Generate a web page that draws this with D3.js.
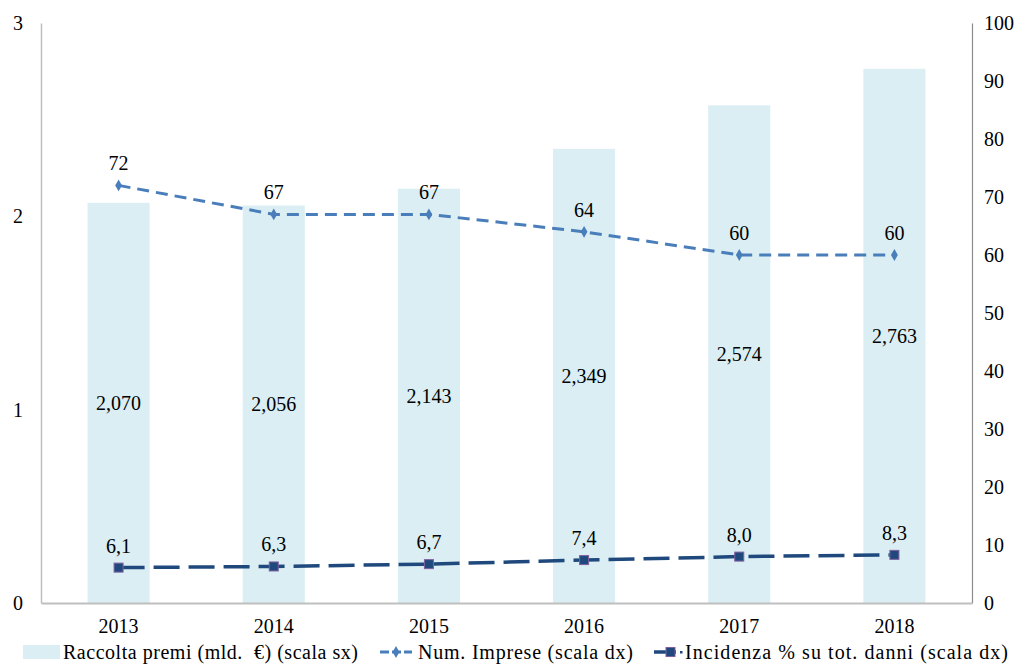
<!DOCTYPE html>
<html lang="it">
<head>
  <meta charset="UTF-8" />
  <title>Raccolta premi</title>
  <script src="https://cdn.jsdelivr.net/npm/d3@7"></script>
  <style>
    body { margin: 0; background: #fff; }
    text { font-family: "Liberation Serif", "DejaVu Serif", serif; fill: #000; white-space: pre; }
  </style>
</head>
<body>
<script>
  var years = ["2013", "2014", "2015", "2016", "2017", "2018"];
  var premi = [2.070, 2.056, 2.143, 2.349, 2.574, 2.763];
  var imprese = [72, 67, 67, 64, 60, 60];
  var incidenza = [6.1, 6.3, 6.7, 7.4, 8.0, 8.3];
  var leftTicks = [0, 1, 2, 3];
  var rightTicks = [0, 10, 20, 30, 40, 50, 60, 70, 80, 90, 100];

  var w = 1025, h = 664;
  var pLeft = 41, pRight = 972, pTop = 23, pBottom = 603;
  var fs = 20;

  var svg = d3.select("body").append("svg")
    .attr("width", w)
    .attr("height", h);

  var x = d3.scaleBand().domain(years).range([pLeft, pRight]).paddingInner(0.6).paddingOuter(0.3);
  var yL = d3.scaleLinear().domain([0, 3]).range([pBottom, pTop]);
  var yR = d3.scaleLinear().domain([0, 100]).range([pBottom, pTop]);

  var fmt = function(v, d) { return v.toFixed(d).replace(".", ","); };
  var cx = function(i) { return x(years[i]) + x.bandwidth() / 2; };

  // bars
  svg.selectAll("rect.bar")
    .data(premi)
    .enter()
    .append("rect")
    .attr("class", "bar")
    .attr("fill", "#daeef3")
    .attr("x", function(d, i) { return x(years[i]); })
    .attr("width", x.bandwidth())
    .attr("y", function(d) { return yL(d); })
    .attr("height", function(d) { return pBottom - yL(d); });

  svg.selectAll("text.barlbl")
    .data(premi)
    .enter()
    .append("text")
    .attr("class", "barlbl")
    .attr("x", function(d, i) { return cx(i); })
    .attr("y", function(d) { return (yL(d) + pBottom) / 2 + 7; })
    .attr("text-anchor", "middle")
    .attr("font-size", fs)
    .text(function(d) { return fmt(d, 3); });

  // axes
  var yAxisL = d3.axisLeft(yL).tickValues(leftTicks).tickFormat(d3.format("d")).tickSize(0).tickPadding(18);
  var gL = svg.append("g").attr("transform", "translate(" + pLeft + ",0)").call(yAxisL);
  gL.select(".domain").attr("stroke", "#bfbfbf").attr("stroke-width", 1.5);

  var yAxisR = d3.axisRight(yR).tickValues(rightTicks).tickSize(0).tickPadding(12);
  var gR = svg.append("g").attr("transform", "translate(" + pRight + ",0)").call(yAxisR);
  gR.select(".domain").attr("stroke", "#8c8c8c").attr("stroke-width", 1.2);

  var xAxis = d3.axisBottom(x).tickSize(0).tickPadding(16);
  var gX = svg.append("g").attr("transform", "translate(0," + pBottom + ")").call(xAxis);
  gX.select(".domain").attr("stroke", "#bfbfbf").attr("stroke-width", 2);

  svg.selectAll(".tick text")
    .attr("font-family", "Liberation Serif, DejaVu Serif, serif")
    .attr("font-size", fs)
    .attr("fill", "#000");

  // lines
  var lineR = d3.line()
    .x(function(d, i) { return cx(i); })
    .y(function(d) { return yR(d); });

  svg.append("path")
    .datum(imprese)
    .attr("fill", "none")
    .attr("stroke", "#4a7ebb")
    .attr("stroke-width", 3)
    .attr("stroke-dasharray", "12,7")
    .attr("d", lineR);

  svg.selectAll("path.dia")
    .data(imprese)
    .enter()
    .append("path")
    .attr("class", "dia")
    .attr("fill", "#4a7ebb")
    .attr("transform", function(d, i) { return "translate(" + cx(i) + "," + yR(d) + ")"; })
    .attr("d", d3.symbol().type(d3.symbolDiamond).size(40));

  svg.selectAll("text.implbl")
    .data(imprese)
    .enter()
    .append("text")
    .attr("class", "implbl")
    .attr("x", function(d, i) { return cx(i); })
    .attr("y", function(d) { return yR(d) - 15; })
    .attr("text-anchor", "middle")
    .attr("font-size", fs)
    .text(function(d) { return d; });

  svg.append("path")
    .datum(incidenza)
    .attr("fill", "none")
    .attr("stroke", "#1f497d")
    .attr("stroke-width", 3.5)
    .attr("stroke-dasharray", "26,9")
    .attr("d", lineR);

  svg.selectAll("rect.sq")
    .data(incidenza)
    .enter()
    .append("rect")
    .attr("class", "sq")
    .attr("fill", "#1f497d")
    .attr("stroke", "#7f5f9f")
    .attr("stroke-width", 1)
    .attr("x", function(d, i) { return cx(i) - 4.5; })
    .attr("y", function(d) { return yR(d) - 4.5; })
    .attr("width", 9)
    .attr("height", 9);

  svg.selectAll("text.inclbl")
    .data(incidenza)
    .enter()
    .append("text")
    .attr("class", "inclbl")
    .attr("x", function(d, i) { return cx(i); })
    .attr("y", function(d) { return yR(d) - 15; })
    .attr("text-anchor", "middle")
    .attr("font-size", fs)
    .text(function(d) { return fmt(d, 1); });

  // legend
  var lg = svg.append("g").attr("transform", "translate(0,652)");
  lg.append("rect").attr("x", 23).attr("y", -7).attr("width", 37).attr("height", 14).attr("fill", "#daeef3");
  lg.append("text").attr("x", 63).attr("y", 7).attr("font-size", fs)
    .attr("textLength", 295).attr("lengthAdjust", "spacing")
    .text("Raccolta premi (mld.  €) (scala sx)");

  lg.append("line").attr("x1", 380).attr("x2", 412).attr("y1", 0).attr("y2", 0)
    .attr("stroke", "#4a7ebb").attr("stroke-width", 3).attr("stroke-dasharray", "9,3");
  lg.append("path").attr("fill", "#4a7ebb").attr("transform", "translate(396,0)")
    .attr("d", d3.symbol().type(d3.symbolDiamond).size(40));
  lg.append("text").attr("x", 418).attr("y", 7).attr("font-size", fs)
    .attr("textLength", 215).attr("lengthAdjust", "spacing")
    .text("Num. Imprese (scala dx)");

  lg.append("line").attr("x1", 654).attr("x2", 676).attr("y1", 0).attr("y2", 0)
    .attr("stroke", "#1f497d").attr("stroke-width", 3.5);
  lg.append("rect").attr("x", 666).attr("y", -4.5).attr("width", 9).attr("height", 9)
    .attr("fill", "#1f497d").attr("stroke", "#7f5f9f");
  lg.append("rect").attr("x", 680).attr("y", -1).attr("width", 2.5).attr("height", 2.5).attr("fill", "#1f497d");
  lg.append("text").attr("x", 685).attr("y", 7).attr("font-size", fs)
    .attr("textLength", 323).attr("lengthAdjust", "spacing")
    .text("Incidenza % su tot. danni (scala dx)");
</script>
</body>
</html>
